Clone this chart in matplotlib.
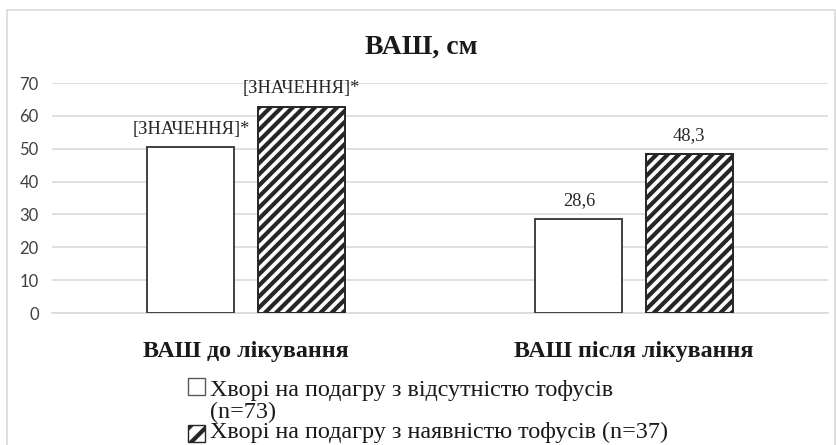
import matplotlib
matplotlib.use("Agg")
import matplotlib.pyplot as plt
from matplotlib.patches import Rectangle
import numpy as np

categories = ["ВАШ до лікування", "ВАШ після лікування"]
series_names = ["Хворі на подагру з відсутністю тофусів\n(n=73)",
                "Хворі на подагру з наявністю тофусів (n=37)"]
no_tophi = [50.4, 28.6]
with_tophi = [62.6, 48.3]
labels_no = ["[ЗНАЧЕННЯ]*", "28,6"]
labels_with = ["[ЗНАЧЕННЯ]*", "48,3"]
yticks = [0, 10, 20, 30, 40, 50, 60, 70]

plt.rcParams['hatch.linewidth'] = 3.0
serif = ['Liberation Serif', 'DejaVu Serif']
sans = ['Lato', 'DejaVu Sans']

W, H = 837, 445
fig = plt.figure(figsize=(W/100, H/100), dpi=100)
fig.patches.append(Rectangle((7/W, -0.01), 828/W, (H-10)/H + 0.01,
                             transform=fig.transFigure, fill=False,
                             edgecolor='#d9d9d9', linewidth=1.2))
ax = fig.add_axes([52/W, 132/H, 776/W, 230/H])

x = np.arange(len(categories))
w = 0.224
off = 0.142
b1 = ax.bar(x - off, no_tophi, w, facecolor='white', edgecolor='#404040', linewidth=1.4, zorder=3)
b2 = ax.bar(x + off, with_tophi, w, facecolor='white', edgecolor='#262626', linewidth=1.4,
            hatch='///', zorder=3)

for rect, lab in zip(b1, labels_no):
    ax.text(rect.get_x() + rect.get_width()/2, rect.get_height() + 3.0, lab,
            ha='center', va='bottom', fontsize=13.3, family=serif, color='#262626')
for rect, lab in zip(b2, labels_with):
    ax.text(rect.get_x() + rect.get_width()/2, rect.get_height() + 3.0, lab,
            ha='center', va='bottom', fontsize=13.3, family=serif, color='#262626')

ax.set_xlim(-0.5, 1.5)
ax.set_ylim(0, 70)
ax.set_yticks(yticks)
ax.set_yticklabels([str(t) for t in yticks], family=sans, fontsize=12, color='#404040')
ax.yaxis.grid(True, color='#d9d9d9', linewidth=1.2, zorder=0)
ax.set_axisbelow(True)
ax.tick_params(axis='y', length=0, pad=9.5)
ax.set_xticks(x)
ax.set_xticklabels(categories, family=serif, fontsize=17.3, fontweight='bold', color='#1a1a1a')
ax.tick_params(axis='x', length=0, pad=20.5)
for s in ['left', 'right', 'top']:
    ax.spines[s].set_visible(False)
ax.spines['bottom'].set_color('#d9d9d9')
ax.spines['bottom'].set_linewidth(1.2)

fig.text(421/W, 1 - 47/H, "ВАШ, см", ha='center', va='center', family=serif,
         fontsize=20, fontweight='bold', color='#1a1a1a')

# legend (manual layout)
leg_rows = [(series_names[0], 386, 389, dict(facecolor='white', edgecolor='#595959', linewidth=1.0)),
            (series_names[1], 433, 431, dict(facecolor='white', edgecolor='#262626', linewidth=1.0,
                                             hatch='//'))]
for lab, ym, yt, style in leg_rows:
    sz = 17
    fig.patches.append(Rectangle((188/W, 1 - (ym + sz/2)/H), sz/W, sz/H,
                                 transform=fig.transFigure, **style))
    fig.text(210/W, 1 - (yt - 9)/H, lab, ha='left', va='top', family=serif,
             fontsize=17.4, color='#1a1a1a', linespacing=1.03)

fig.savefig("out.png", dpi=100)
